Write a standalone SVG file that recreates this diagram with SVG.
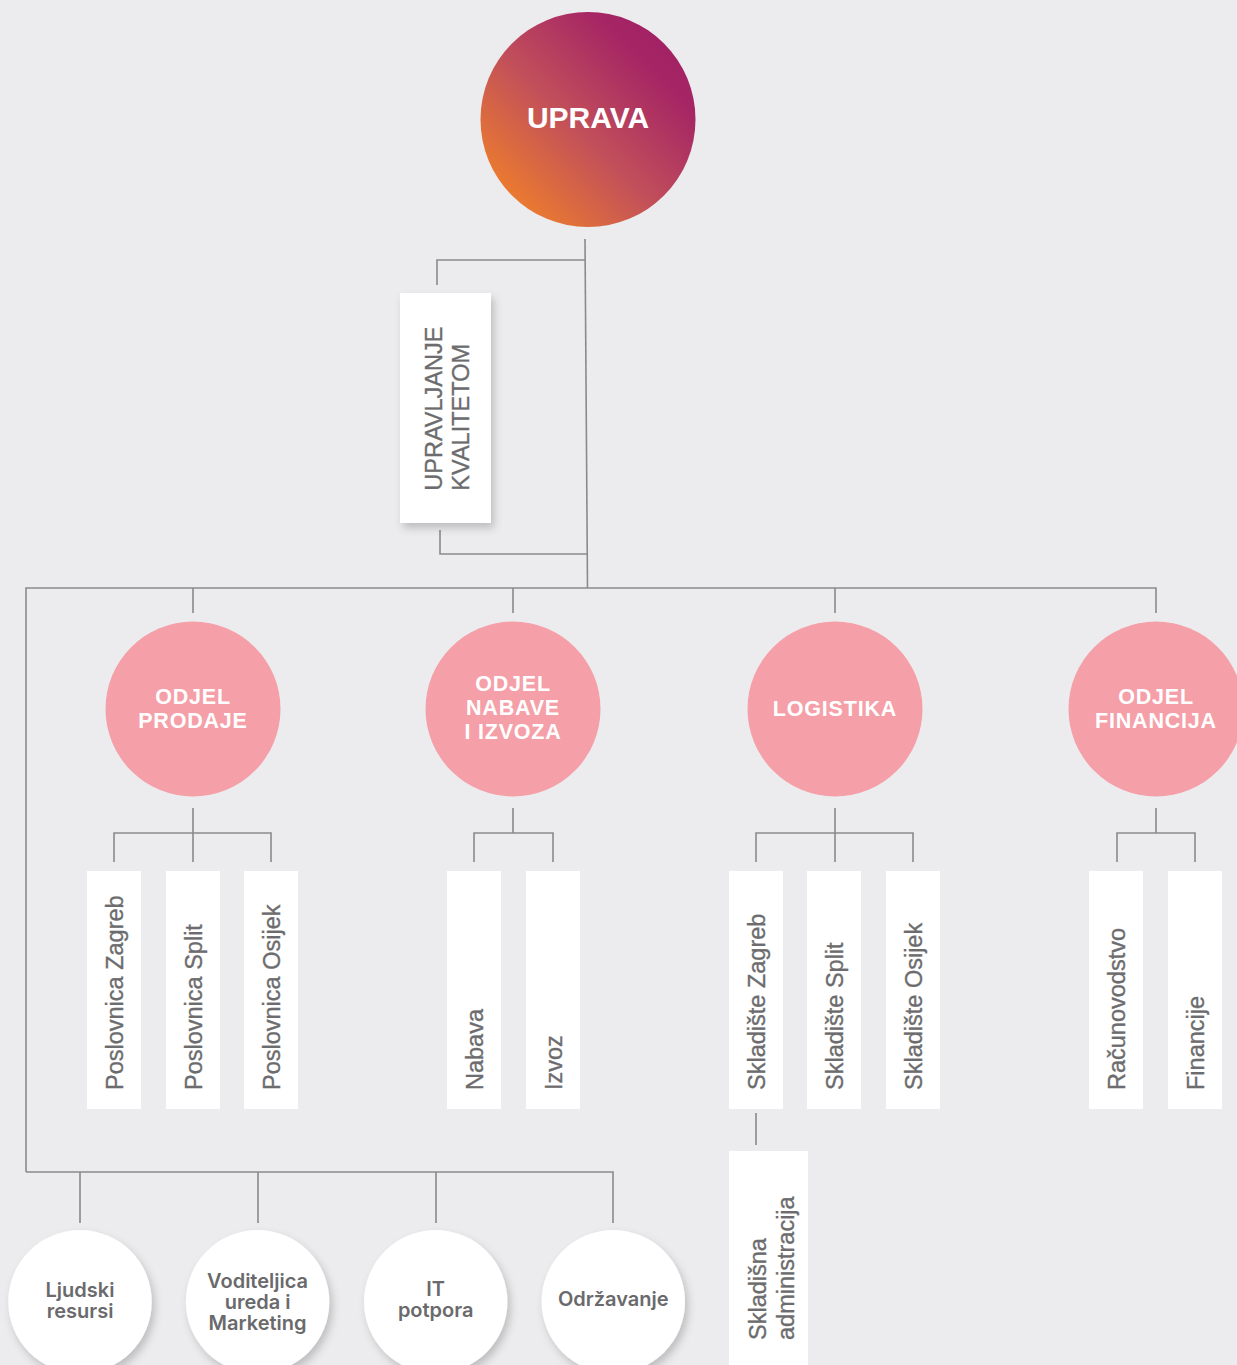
<svg xmlns="http://www.w3.org/2000/svg" width="1237" height="1365" viewBox="0 0 1237 1365">
  <defs>
    <linearGradient id="grad" x1="0" y1="1" x2="1" y2="0">
      <stop offset="0.1" stop-color="#F0802A"/>
      <stop offset="0.45" stop-color="#C2505A"/>
      <stop offset="0.75" stop-color="#A62764"/>
      <stop offset="1" stop-color="#9C1A66"/>
    </linearGradient>
    <filter id="shadow" x="-20%" y="-20%" width="150%" height="150%">
      <feDropShadow dx="3" dy="5" stdDeviation="4" flood-color="#000" flood-opacity="0.2"/>
    </filter>
    <style>
      .ln { fill: none; stroke: #8a8a8c; stroke-width: 1.6; }
      .pink { fill: #F59FA8; }
      .pt { font-family: "Liberation Sans", Arial, sans-serif; font-weight: bold; font-size: 21.5px; fill: #fff; text-anchor: middle; letter-spacing: 0.8px; }
      .box { fill: #fff; }
      .bt { font-family: "Liberation Sans", Arial, sans-serif; font-size: 23.5px; fill: #6c6c6e; stroke: #6c6c6e; stroke-width: 0.35px; }
      .wc { fill: #fff; filter: url(#shadow); }
      .ct { font-family: Inter, "Liberation Sans", sans-serif; font-weight: 600; font-size: 20px; fill: #6a6a6c; text-anchor: middle; }
    </style>
  </defs>
  <rect width="1237" height="1365" fill="#ECECEE"/>

  <g id="connectors">
    <polyline class="ln" points="585,239 587.5,588"/>
    <polyline class="ln" points="437,285 437,260 585.3,260"/>
    <polyline class="ln" points="440,530 440,554 587.2,554"/>
    <polyline class="ln" points="26,1172 26,588 1156,588 1156,613"/>
    <line class="ln" x1="193" y1="588" x2="193" y2="613"/>
    <line class="ln" x1="513" y1="588" x2="513" y2="613"/>
    <line class="ln" x1="835" y1="588" x2="835" y2="613"/>
    <polyline class="ln" points="26,1172 613,1172 613,1223"/>
    <line class="ln" x1="80" y1="1172" x2="80" y2="1223"/>
    <line class="ln" x1="258" y1="1172" x2="258" y2="1223"/>
    <line class="ln" x1="436" y1="1172" x2="436" y2="1223"/>
    <line class="ln" x1="193" y1="808" x2="193" y2="862"/>
    <polyline class="ln" points="114,862 114,833 271,833 271,862"/>
    <line class="ln" x1="513" y1="808" x2="513" y2="833"/>
    <polyline class="ln" points="474,862 474,833 553,833 553,862"/>
    <line class="ln" x1="835" y1="808" x2="835" y2="862"/>
    <polyline class="ln" points="756,862 756,833 913,833 913,862"/>
    <line class="ln" x1="756" y1="1113" x2="756" y2="1145"/>
    <line class="ln" x1="1156" y1="808" x2="1156" y2="833"/>
    <polyline class="ln" points="1117,862 1117,833 1195,833 1195,862"/>
  </g>

  <g id="uprava">
    <circle cx="588" cy="119.5" r="107.5" fill="url(#grad)"/>
    <text x="588" y="128" font-family="Liberation Sans, Arial, sans-serif" font-weight="bold" font-size="30" fill="#fff" text-anchor="middle">UPRAVA</text>
  </g>

  <g id="upravljanje-kvalitetom">
    <rect x="400" y="293" width="91" height="230" fill="#fff" filter="url(#shadow)"/>
    <text class="bt" transform="translate(442.3,490.7) rotate(-90)" font-size="23"><tspan x="0" y="0">UPRAVLJANJE</tspan><tspan x="0" y="26.7">KVALITETOM</tspan></text>
  </g>

  <g id="odjel-prodaje">
    <circle class="pink" cx="193" cy="709" r="87.5"/>
    <text class="pt"><tspan x="193" y="703.5">ODJEL</tspan><tspan x="193" y="727.7">PRODAJE</tspan></text>
  </g>
  <g id="odjel-nabave">
    <circle class="pink" cx="513" cy="709" r="87.5"/>
    <text class="pt"><tspan x="513" y="691">ODJEL</tspan><tspan x="513" y="715">NABAVE</tspan><tspan x="513" y="739.3">I IZVOZA</tspan></text>
  </g>
  <g id="logistika">
    <circle class="pink" cx="835" cy="709" r="87.5"/>
    <text class="pt" x="835" y="716">LOGISTIKA</text>
  </g>
  <g id="odjel-financija">
    <circle class="pink" cx="1156" cy="709" r="87.5"/>
    <text class="pt"><tspan x="1156" y="703.5">ODJEL</tspan><tspan x="1156" y="727.7">FINANCIJA</tspan></text>
  </g>

  <g id="poslovnica-zagreb">
    <rect class="box" x="87" y="871" width="54" height="238"/>
    <text class="bt" transform="translate(122.5,1090) rotate(-90)">Poslovnica Zagreb</text>
  </g>
  <g id="poslovnica-split">
    <rect class="box" x="166" y="871" width="54" height="238"/>
    <text class="bt" transform="translate(201.5,1090) rotate(-90)">Poslovnica Split</text>
  </g>
  <g id="poslovnica-osijek">
    <rect class="box" x="244" y="871" width="54" height="238"/>
    <text class="bt" transform="translate(279.5,1090) rotate(-90)">Poslovnica Osijek</text>
  </g>
  <g id="nabava">
    <rect class="box" x="447" y="871" width="54" height="238"/>
    <text class="bt" transform="translate(482.5,1090) rotate(-90)">Nabava</text>
  </g>
  <g id="izvoz">
    <rect class="box" x="526" y="871" width="54" height="238"/>
    <text class="bt" transform="translate(561.5,1090) rotate(-90)">Izvoz</text>
  </g>
  <g id="skladiste-zagreb">
    <rect class="box" x="729" y="871" width="54" height="238"/>
    <text class="bt" transform="translate(764.5,1090) rotate(-90)">Skladište Zagreb</text>
  </g>
  <g id="skladiste-split">
    <rect class="box" x="807" y="871" width="54" height="238"/>
    <text class="bt" transform="translate(842.5,1090) rotate(-90)">Skladište Split</text>
  </g>
  <g id="skladiste-osijek">
    <rect class="box" x="886" y="871" width="54" height="238"/>
    <text class="bt" transform="translate(921.5,1090) rotate(-90)">Skladište Osijek</text>
  </g>
  <g id="racunovodstvo">
    <rect class="box" x="1089" y="871" width="54" height="238"/>
    <text class="bt" transform="translate(1124.5,1090) rotate(-90)">Računovodstvo</text>
  </g>
  <g id="financije">
    <rect class="box" x="1168" y="871" width="54" height="238"/>
    <text class="bt" transform="translate(1203.5,1090) rotate(-90)">Financije</text>
  </g>
  <g id="skladisna-administracija">
    <rect class="box" x="729" y="1151" width="79" height="220"/>
    <text class="bt" transform="translate(765.7,1340) rotate(-90)"><tspan x="0" y="0">Skladišna</tspan><tspan x="0" y="28.8">administracija</tspan></text>
  </g>

  <g id="ljudski-resursi">
    <circle class="wc" cx="80" cy="1301.7" r="71.7"/>
    <text class="ct"><tspan x="80" y="1296.7">Ljudski</tspan><tspan x="80" y="1317.7">resursi</tspan></text>
  </g>
  <g id="voditeljica">
    <circle class="wc" cx="257.6" cy="1301.7" r="71.7"/>
    <text class="ct"><tspan x="257.6" y="1288.3">Voditeljica</tspan><tspan x="257.6" y="1309">ureda i</tspan><tspan x="257.6" y="1330">Marketing</tspan></text>
  </g>
  <g id="it-potpora">
    <circle class="wc" cx="435.7" cy="1301.7" r="71.7"/>
    <text class="ct"><tspan x="435.7" y="1295.7">IT</tspan><tspan x="435.7" y="1316.7">potpora</tspan></text>
  </g>
  <g id="odrzavanje">
    <circle class="wc" cx="613.3" cy="1301.7" r="71.7"/>
    <text class="ct" x="613.3" y="1305.7">Održavanje</text>
  </g>
</svg>
